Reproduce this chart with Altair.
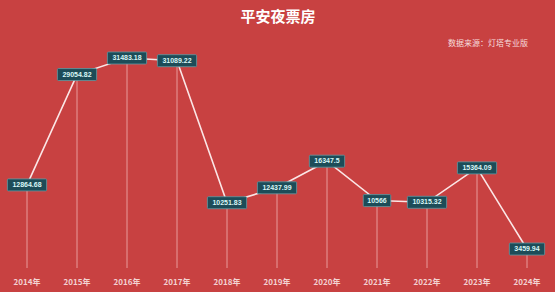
import altair as alt
import pandas as pd

years = [2014, 2015, 2016, 2017, 2018, 2019, 2020, 2021, 2022, 2023, 2024]
values = [12864.68, 29054.82, 31483.18, 31089.22, 10251.83, 12437.99, 16347.5, 10566, 10315.32, 15364.09, 3459.94]
labels = ["12864.68", "29054.82", "31483.18", "31089.22", "10251.83", "12437.99", "16347.5", "10566", "10315.32", "15364.09", "3459.94"]
year_labels = [f"{y}年" for y in years]

df = pd.DataFrame({"year": years, "value": values, "label": labels, "ylab": year_labels})

BG = "#c84141"
W, H = 555, 292
xs = alt.Scale(domain=[2013.46, 2024.56])
ys = alt.Scale(domain=[-2846, 39994])
# data units per pixel
XPP = (2024.56 - 2013.46) / W
YPP = (39994 + 2846) / H

base = alt.Chart(df)

drops = base.mark_rule(color="#f6c0c0", strokeWidth=1, opacity=0.7).encode(
    x=alt.X("year:Q", scale=xs, axis=None),
    y=alt.Y("value:Q", scale=ys, axis=None),
    y2=alt.value(268),
)

line = base.mark_line(color="#fbe6e6", strokeWidth=1.6).encode(
    x=alt.X("year:Q", scale=xs, axis=None),
    y=alt.Y("value:Q", scale=ys, axis=None),
)

boxes = base.transform_calculate(
    w="length(datum.label)*3.9+8",
).transform_calculate(
    x1=f"datum.year - datum.w/2*{XPP}",
    x2=f"datum.year + datum.w/2*{XPP}",
    y1=f"datum.value - 6*{YPP}",
    y2=f"datum.value + 6*{YPP}",
).mark_rect(color="#1d4c58", stroke="#5f9aa3", strokeWidth=0.8, cornerRadius=1).encode(
    x=alt.X("x1:Q", scale=xs, axis=None),
    x2="x2:Q",
    y=alt.Y("y1:Q", scale=ys, axis=None),
    y2="y2:Q",
)

texts = base.mark_text(color="#d9f6f6", fontSize=7, fontWeight="bold", font="Liberation Sans").encode(
    x=alt.X("year:Q", scale=xs, axis=None),
    y=alt.Y("value:Q", scale=ys, axis=None),
    text="label:N",
)

ylabels = base.mark_text(color="#f3d2d2", fontSize=8, fontWeight="bold", font="Noto Sans CJK SC").encode(
    x=alt.X("year:Q", scale=xs, axis=None),
    y=alt.value(283),
    text="ylab:N",
)

title = alt.Chart(pd.DataFrame({"t": ["平安夜票房"]})).mark_text(
    color="#ffffff", fontSize=15, fontWeight="bold", font="Noto Sans CJK SC"
).encode(x=alt.value(278), y=alt.value(17), text="t:N")

source = alt.Chart(pd.DataFrame({"t": ["数据来源：灯塔专业版"]})).mark_text(
    color="#f6dcdc", fontSize=8, font="Noto Sans CJK SC", align="right"
).encode(x=alt.value(528), y=alt.value(44), text="t:N")

chart = alt.layer(drops, line, boxes, texts, ylabels, title, source).properties(
    width=W, height=H, background=BG, padding=0, autosize=alt.AutoSizeParams(type="none")
).configure_view(stroke=None)

chart.save("out.html", embed_options={"renderer": "svg", "actions": False})
